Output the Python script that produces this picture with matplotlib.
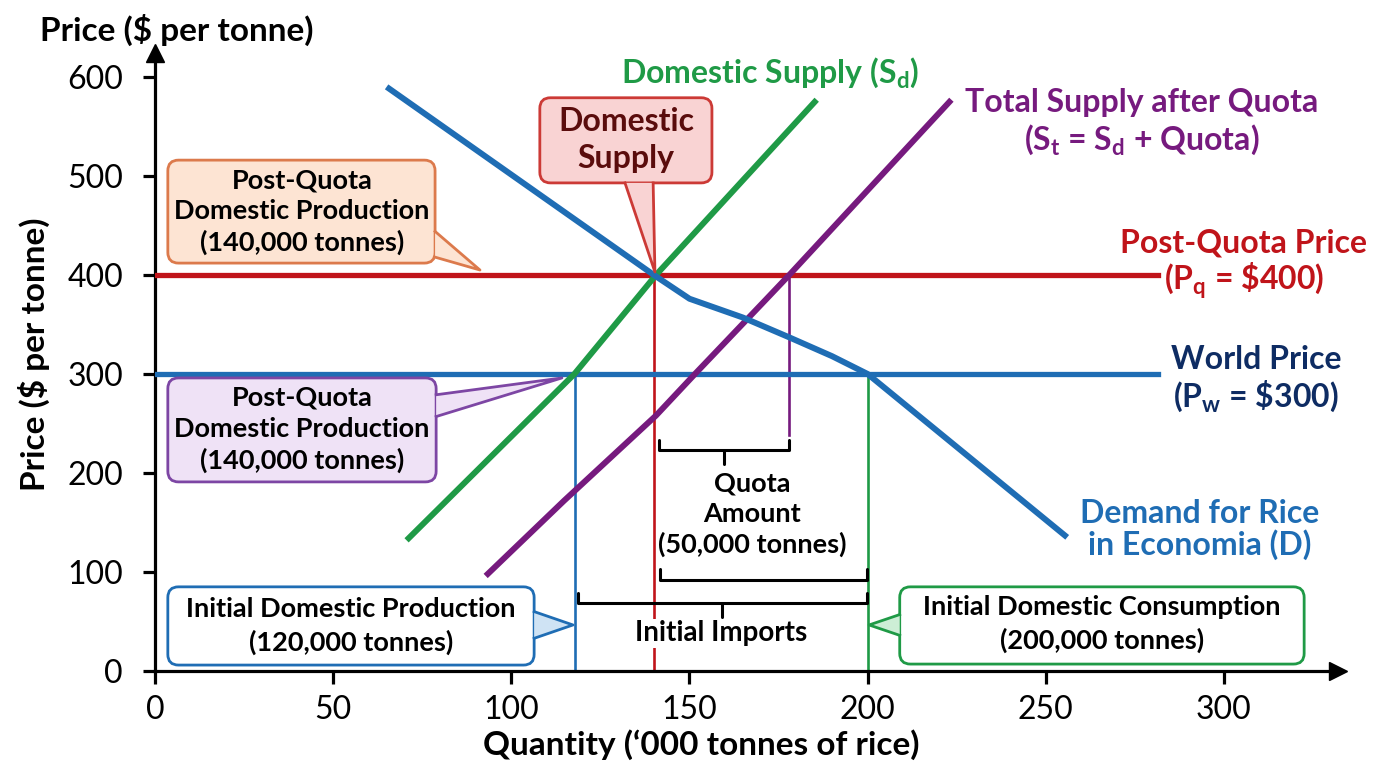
import matplotlib
matplotlib.use("Agg")
import matplotlib.pyplot as plt
from matplotlib.patches import FancyBboxPatch, Polygon

plt.rcParams['font.family'] = ['Lato', 'DejaVu Sans']

# curves (quantity in '000 tonnes, price in $)
demand_q = [65, 140, 150, 165, 178, 190, 200, 256]
demand_p = [590, 400, 376, 357, 337, 318, 300, 135]
dom_supply_q = [70.6, 117.7, 140.6, 185.7]
dom_supply_p = [132, 300, 400, 577]
tot_supply_q = [92.8, 114.8, 140.6, 151.8, 171.4, 178, 223.5]
tot_supply_p = [96, 172, 258, 301, 375, 400, 577]

world_price = 300
quota_price = 400
q_init_prod = 118
q_quota_prod = 140
q_quota_total = 178
q_init_cons = 200
price_line_end = 281.5

x_ticks = [0, 50, 100, 150, 200, 250, 300]
y_ticks = [0, 100, 200, 300, 400, 500, 600]

blue = '#1f6db4'
green = '#1f9a46'
purple = '#761a7e'
red = '#c0141a'
navy = '#0e2c63'

fig = plt.figure(figsize=(13.76, 7.68), dpi=100)
ax = fig.add_axes([155/1376, 97/768, 1183/1376, 617.8/768])
ax.set_xlim(0, 332)
ax.set_ylim(0, 624)
ASP = 3.5633/0.99  # px per x unit / px per y unit

for s in ['top', 'right']:
    ax.spines[s].set_visible(False)
for s in ['left', 'bottom']:
    ax.spines[s].set_linewidth(2.3)
ax.plot(1, 0, '>k', transform=ax.transAxes, clip_on=False, ms=13)
ax.plot(0, 1, '^k', transform=ax.transAxes, clip_on=False, ms=13)
ax.set_xticks(x_ticks)
ax.set_yticks(y_ticks)
ax.tick_params(direction='out', length=9, width=2.3, labelsize=23)
ax.tick_params(axis='y', pad=14)
ax.tick_params(axis='x', pad=8)

fig.text(40/1376, 1-30/768, 'Price ($ per tonne)', fontsize=24, fontweight='bold', ha='left', va='center')
fig.text(34/1376, 1-354/768, 'Price ($ per tonne)', fontsize=24, fontweight='bold', rotation=90, ha='center', va='center')
fig.text(701/1376, 1-745/768, 'Quantity (\u2018000 tonnes of rice)', fontsize=24, fontweight='bold', ha='center', va='center')

# horizontal price lines
ax.plot([0, price_line_end], [quota_price, quota_price], color=red, lw=3.8, zorder=3)
ax.plot([0, price_line_end], [world_price, world_price], color=blue, lw=3.8, zorder=3)

# vertical guides
ax.plot([q_init_prod, q_init_prod], [0, world_price], color=blue, lw=1.9, zorder=2)
ax.plot([q_quota_prod, q_quota_prod], [0, quota_price], color=red, lw=1.9, zorder=2)
ax.plot([q_init_cons, q_init_cons], [0, world_price], color=green, lw=1.9, zorder=2)
ax.plot([q_quota_total, q_quota_total], [238, quota_price], color=purple, lw=1.9, zorder=2)

# curves
ax.plot(dom_supply_q, dom_supply_p, color=green, lw=4.3, zorder=4, solid_capstyle='butt')
ax.plot(tot_supply_q, tot_supply_p, color=purple, lw=4.3, zorder=4, solid_capstyle='butt')
ax.plot(demand_q, demand_p, color=blue, lw=4.3, zorder=4, solid_capstyle='butt')

# curve labels
ax.text(172.6, 604, r'Domestic Supply (S$_\mathregular{d}$)', color=green, fontsize=23, fontweight='bold',
        ha='center', va='center')
ax.text(277, 554, 'Total Supply after Quota\n' + r'(S$_\mathregular{t}$ = S$_\mathregular{d}$ + Quota)',
        color=purple, fontsize=23, fontweight='bold', ha='center', va='center', linespacing=1.22)
ax.text(305.6, 410, 'Post-Quota Price\n' + r'(P$_\mathregular{q}$ = \$400)', color=red, fontsize=23,
        fontweight='bold', ha='center', va='center', linespacing=1.1)
ax.text(309, 294, 'World Price\n' + r'(P$_\mathregular{w}$ = \$300)', color=navy, fontsize=23,
        fontweight='bold', ha='center', va='center', linespacing=1.15)
ax.text(293.3, 143, 'Demand for Rice\nin Economia (D)', color=blue, fontsize=23, fontweight='bold',
        ha='center', va='center', linespacing=1.08)


def callout(x0, y0, x1, y1, fc, ec, ptr, ptr_fc=None):
    ax.add_patch(FancyBboxPatch((x0, y0), x1-x0, y1-y0, boxstyle='round,pad=0,rounding_size=3',
                                mutation_aspect=ASP, fc=fc, ec=ec, lw=2, zorder=6))
    ax.add_patch(Polygon(ptr, closed=True, fc=ptr_fc or fc, ec='none', zorder=7))
    ax.plot([ptr[0][0], ptr[1][0], ptr[2][0]], [ptr[0][1], ptr[1][1], ptr[2][1]], color=ec, lw=2, zorder=7)


callout(3.6, 412, 78.6, 516, '#fde4d3', '#dc7a4c', [(78.6, 444), (91.2, 405), (78.6, 418)])
ax.text(41.3, 464, 'Post-Quota\nDomestic Production\n(140,000 tonnes)', fontsize=19.5, fontweight='bold',
        ha='center', va='center', linespacing=1.33, zorder=8)

callout(108, 493, 156.3, 579, '#f9d3d3', '#cc3a36', [(131.9, 493), (140.3, 403), (139.8, 493)])
ax.text(132.2, 536, 'Domestic\nSupply', color='#5a0c0c', fontsize=23, fontweight='bold',
        ha='center', va='center', linespacing=1.32, zorder=8)

callout(3.6, 191, 78.9, 296, '#efe2f6', '#7d46a4', [(78.9, 279), (114.2, 296), (78.9, 257)])
ax.text(41.3, 244, 'Post-Quota\nDomestic Production\n(140,000 tonnes)', fontsize=19.5, fontweight='bold',
        ha='center', va='center', linespacing=1.33, zorder=8)

callout(3.6, 6, 106.4, 85, 'white', blue, [(106.4, 60), (117.3, 46.5), (106.4, 33)], '#cfe3f4')
ax.text(55, 45.5, 'Initial Domestic Production\n(120,000 tonnes)', fontsize=19.5, fontweight='bold',
        ha='center', va='center', linespacing=1.38, zorder=8)

callout(209, 7, 322.5, 85, 'white', green, [(209, 57), (200.4, 46.5), (209, 36)], '#cdeed6')
ax.text(265.8, 47.5, 'Initial Domestic Consumption\n(200,000 tonnes)', fontsize=19.5, fontweight='bold',
        ha='center', va='center', linespacing=1.38, zorder=8)


def brace(x0, x1, y, hook, tip=None):
    ax.plot([x0, x0, x1, x1], [y + hook, y, y, y + hook], color='black', lw=2.2,
            solid_joinstyle='round', solid_capstyle='round', zorder=5)
    if tip is not None:
        xm = (x0 + x1) / 2
        ax.plot([xm, xm], [y, y - tip], color='black', lw=2.2, solid_capstyle='round', zorder=5)


brace(141.5, 178, 223, 10, 14)
ax.text(167.5, 158, 'Quota\nAmount\n(50,000 tonnes)', fontsize=19.5, fontweight='bold',
        ha='center', va='center', linespacing=1.3, zorder=5)
brace(141.7, 199.8, 92, 11)
brace(118.7, 199.8, 68.7, 10, 14)
ax.text(159, 38, 'Initial Imports', fontsize=20, fontweight='bold', ha='center', va='center', zorder=5,
        bbox=dict(fc='white', ec='none', pad=1))

fig.savefig('out.png', dpi=100)
